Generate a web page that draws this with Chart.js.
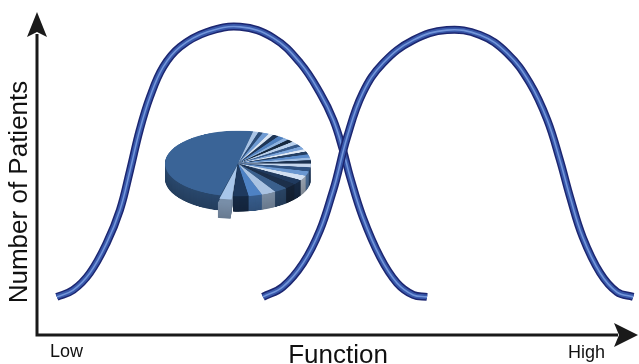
<!DOCTYPE html>
<html>
<head>
<meta charset="utf-8">
<script src="https://cdn.jsdelivr.net/npm/chart.js@4.4.1/dist/chart.umd.min.js"></script>
<style>
  html, body { margin: 0; padding: 0; background: #fff; overflow: hidden; }
  #wrap { position: relative; width: 639px; height: 364px; }
  #main { position: absolute; left: 0; top: 0; }
  #pieBox { position: absolute; left: 148px; top: 123px; width: 180px; height: 220px;
            transform: scaleY(0.45); transform-origin: 0 0; }
</style>
</head>
<body>
<div id="wrap">
  <canvas id="main" width="639" height="364"></canvas>
  <div id="pieBox"><canvas id="pie" width="180" height="220"></canvas></div>
</div>
<script>
// ---- data (Function: 0..100, Number of Patients: 0..100) ----
const curve1X = [3.3, 6.0, 8.8, 11.6, 13.8, 15.5, 17.1, 18.8, 21.0, 23.8, 28.3, 33.8, 39.3, 43.8, 47.1, 49.3, 50.9, 52.1, 54.2, 57.1, 59.9, 62.6, 64.9];
const curve1Y = [11.8, 13.9, 19.2, 28.5, 38.7, 51.1, 63.5, 73.7, 83.0, 89.2, 93.8, 95.4, 92.0, 84.2, 74.9, 66.6, 57.3, 48.9, 36.5, 24.1, 16.1, 12.4, 11.8];
const curve2X = [37.6, 40.9, 44.3, 47.1, 49.3, 49.9, 51.6, 54.2, 57.6, 62.6, 68.2, 73.7, 78.2, 82.0, 84.9, 87.0, 88.7, 90.8, 93.7, 96.5, 99.2];
const curve2Y = [11.8, 14.9, 22.3, 32.5, 44.9, 48.9, 61.3, 74.9, 84.2, 91.3, 94.4, 92.9, 87.3, 78.0, 66.6, 54.2, 42.7, 30.3, 19.2, 13.3, 11.8];
const axisLabels = ["Low", "High"];
const xTitle = "Function";
const yTitle = "Number of Patients";

// pie slices (percent), clockwise starting with the big slice
const pieValues = [49.4,
  1.2, 1.0, 1.4, 1.1, 1.3, 1.5, 1.2, 1.4, 1.6, 1.3, 1.5, 1.2, 1.4, 1.6, 1.3, 1.7,
  1.8, 2.0, 2.2, 2.4, 2.4,
  2.6, 3.0, 3.2, 3.0, 3.4, 2.8];
const pieColors = ['#3a6497',
  '#a9c4e6', '#2c4d78', '#6f9bd3', '#dbe6f4', '#1e3556', '#4f80bf', '#8db2df', '#16293f',
  '#b9d0ec', '#35598a', '#7ea7dc', '#e2ebf6', '#243f63', '#5b8ccb', '#9fbee4', '#1b3150',
  '#c6d7ee', '#2f5282', '#6a97d0', '#d2e0f2', '#203a5e',
  '#1c2f4a', '#3a5f8c', '#aac3e2', '#4e82c4', '#1f3a5f', '#a8c6ea'];
const pieOffsets = pieValues.map((v, i) => i === pieValues.length - 1 ? 16 : 0);

function darken(hex, f) {
  const n = parseInt(hex.slice(1), 16);
  const r = Math.round(((n >> 16) & 255) * f), g = Math.round(((n >> 8) & 255) * f), b = Math.round((n & 255) * f);
  return 'rgb(' + r + ',' + g + ',' + b + ')';
}

const pts1 = curve1X.map((x, i) => ({ x: x, y: curve1Y[i] }));
const pts2 = curve2X.map((x, i) => ({ x: x, y: curve2Y[i] }));

function layer(data, color, width, order) {
  return { data: data, borderColor: color, borderWidth: width, pointRadius: 0, fill: false,
           tension: 0.4, borderCapStyle: 'butt', borderJoinStyle: 'round', order: order };
}

const axesPlugin = {
  id: 'axesArrows',
  afterDraw(chart) {
    const ctx = chart.ctx, xs = chart.scales.x, ys = chart.scales.y;
    const x0 = xs.getPixelForValue(0), x1 = xs.getPixelForValue(100);
    const y0 = ys.getPixelForValue(0), y1 = ys.getPixelForValue(100);
    ctx.save();
    ctx.strokeStyle = '#1a1a1a'; ctx.fillStyle = '#1a1a1a'; ctx.lineWidth = 3; ctx.lineCap = 'butt';
    ctx.beginPath();
    ctx.moveTo(x0, y0 + 1.5); ctx.lineTo(x0, y1 + 22);
    ctx.moveTo(x0 - 1.5, y0); ctx.lineTo(x1 - 20, y0);
    ctx.stroke();
    // y arrow
    ctx.beginPath();
    ctx.moveTo(x0, y1); ctx.lineTo(x0 + 10, y1 + 25); ctx.lineTo(x0, y1 + 20); ctx.lineTo(x0 - 10, y1 + 25); ctx.closePath();
    ctx.fill();
    // x arrow
    ctx.beginPath();
    ctx.moveTo(x1, y0); ctx.lineTo(x1 - 24, y0 - 12); ctx.lineTo(x1 - 19, y0); ctx.lineTo(x1 - 24, y0 + 12); ctx.closePath();
    ctx.fill();
    // texts
    ctx.fillStyle = '#111';
    ctx.textBaseline = 'alphabetic';
    ctx.font = '18px "Liberation Sans", Arial, sans-serif';
    ctx.textAlign = 'left';
    ctx.fillText(axisLabels[0], x0 + 13, y0 + 22);
    ctx.textAlign = 'right';
    ctx.fillText(axisLabels[1], x1 - 33, y0 + 23);
    ctx.font = '26px "Liberation Sans", Arial, sans-serif';
    ctx.textAlign = 'center';
    ctx.fillText(xTitle, 338, y0 + 28);
    ctx.save();
    ctx.translate(27, 192);
    ctx.rotate(-Math.PI / 2);
    ctx.fillText(yTitle, 0, 0);
    ctx.restore();
    ctx.restore();
  }
};

new Chart(document.getElementById('main'), {
  type: 'line',
  data: {
    datasets: [
      layer(pts1, '#1c2670', 8, 6), layer(pts1, '#3858aa', 5, 5), layer(pts1, '#7396da', 1.6, 4),
      layer(pts2, '#1c2670', 8, 3), layer(pts2, '#3858aa', 5, 2), layer(pts2, '#7396da', 1.6, 1)
    ]
  },
  options: {
    responsive: false, animation: false, events: [],
    layout: { padding: { left: 37, top: 12, right: 1, bottom: 29 } },
    plugins: { legend: { display: false }, tooltip: { enabled: false } },
    scales: {
      x: { type: 'linear', min: 0, max: 100, display: false },
      y: { type: 'linear', min: 0, max: 100, display: false }
    }
  },
  plugins: [axesPlugin]
});

const DEPTH = 34;
const pieDepthPlugin = {
  id: 'pieDepth',
  beforeDatasetsDraw(chart) {
    const ctx = chart.ctx, meta = chart.getDatasetMeta(0);
    ctx.save();
    for (let d = DEPTH; d >= 1; d--) {
      meta.data.forEach((arc, i) => {
        const p = arc.getProps(['x', 'y', 'startAngle', 'endAngle', 'outerRadius'], true);
        const mid = (p.startAngle + p.endAngle) / 2, off = pieOffsets[i];
        const cx = p.x + Math.cos(mid) * off, cy = p.y + Math.sin(mid) * off + d;
        ctx.fillStyle = darken(pieColors[i], 0.72 - 0.1 * (d / DEPTH));
        ctx.beginPath();
        ctx.moveTo(cx, cy);
        ctx.arc(cx, cy, p.outerRadius, p.startAngle, p.endAngle);
        ctx.closePath();
        ctx.fill();
      });
    }
    ctx.restore();
  }
};

new Chart(document.getElementById('pie'), {
  type: 'pie',
  data: { datasets: [{ data: pieValues, backgroundColor: pieColors, borderWidth: 0, offset: pieOffsets, radius: 73 }] },
  options: {
    responsive: false, animation: false, events: [],
    rotation: 194,
    layout: { padding: { left: 0, top: 0, right: 0, bottom: 40 } },
    plugins: { legend: { display: false }, tooltip: { enabled: false } }
  },
  plugins: [pieDepthPlugin]
});
</script>
</body>
</html>
